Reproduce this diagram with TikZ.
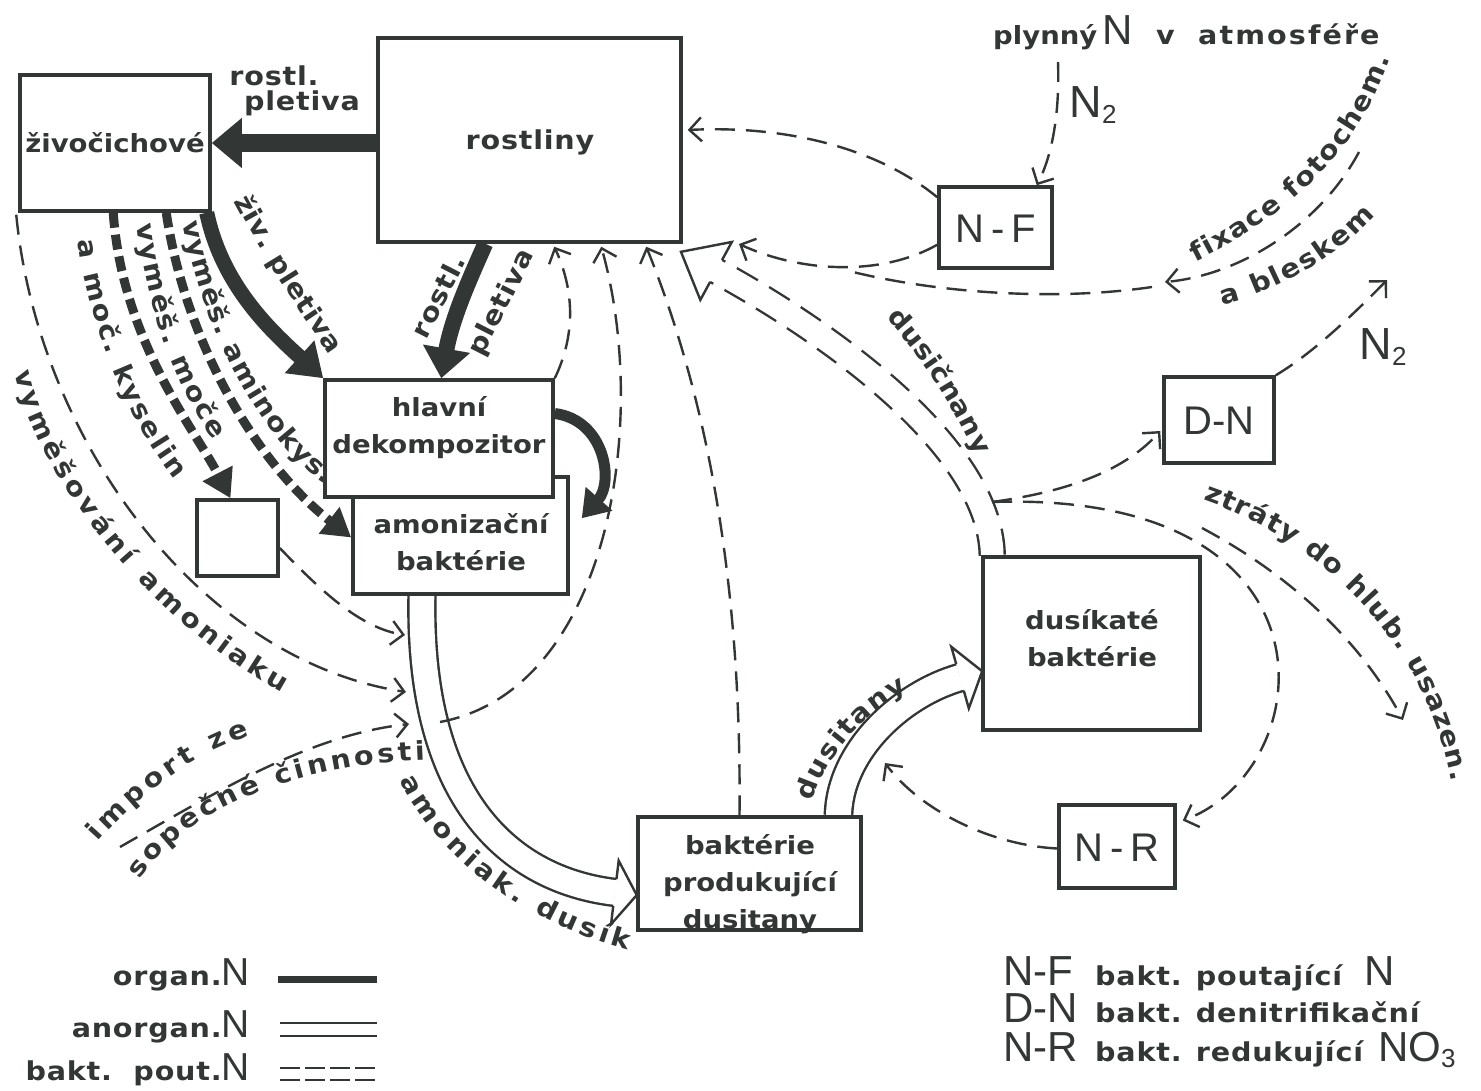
\documentclass[tikz,border=0pt]{standalone}
\usepackage{fontspec}
\usetikzlibrary{arrows.meta,decorations.text,decorations.markings,calc}
\newfontfamily\lblfam{DejaVu Sans}[FakeStretch=1.1]
\newfontfamily\lblwfam{DejaVu Sans}[FakeStretch=1.1, LetterSpace=3]
\newfontfamily\lblxfam{DejaVu Sans}[FakeStretch=1.1, LetterSpace=8]
\newfontfamily\thinfam{Liberation Sans}
\newcommand\lblf{\lblfam\bfseries\fontsize{25}{37}\selectfont}
\newcommand\lblw{\lblwfam\bfseries\fontsize{26}{37}\selectfont}
\newcommand\lblx{\lblxfam\bfseries\fontsize{26}{37}\selectfont}
\newcommand\thinf[1]{\thinfam\mdseries\fontsize{#1}{#1}\selectfont}
\definecolor{ink}{RGB}{50,54,52}
\pgfdeclarelayer{back}
\pgfsetlayers{back,main}
\tikzset{
  box/.style={draw=ink, line width=3.5pt, fill=white, inner sep=0pt},
  txt/.style={font=\lblf, text=ink, inner sep=0pt, align=center},
  wtxt/.style={font=\lblw, text=ink, inner sep=0pt, align=center},
  xtxt/.style={font=\lblx, text=ink, inner sep=0pt, align=center},
  thin/.style={font={\thinf{#1}}, text=ink, inner sep=0pt},
  dsh/.style={draw=ink, line width=2.4pt, dash pattern=on 20pt off 11pt, -{Straight Barb[length=12pt,width=24pt]}},
  dshl/.style={draw=ink, line width=2.4pt, dash pattern=on 20pt off 11pt},
  bakarr/.style={draw=ink, line width=9pt, dash pattern=on 15pt off 7pt, -{Triangle[length=28pt,width=32pt]}},
  hhead/.style n args={3}{postaction={decorate, decoration={markings, mark=at position 0.999 with {
      \fill[white] (0,#1) -- (0,#2) -- (#3,0) -- (0,-#2) -- (0,-#1) -- cycle;
      \draw[ink, line width=2.4pt, solid, line join=miter] (0,#1) -- (0,#2) -- (#3,0) -- (0,-#2) -- (0,-#1);}}}},
  hollow/.style 2 args={draw=white, line width=#1, preaction={draw=ink, line width=#2}},
  hollowd/.style 2 args={draw=white, line width=#1, preaction={draw=ink, line width=#2, dash pattern=on 24pt off 13pt}},
  ontext/.style={decorate, decoration={text along path, text={|\lblw\color{ink}|#1}, text align=fit to path}}
}
\begin{document}
\begin{tikzpicture}[x=1pt,y=-1pt]
\useasboundingbox (0,0) rectangle (1481,1091);
\begin{pgfonlayer}{back}
\fill[white] (0,0) rectangle (1481,1091);
\end{pgfonlayer}

% ---------- boxes ----------
\node[box, minimum width=190pt, minimum height=136pt] (ziv) at (115,143) {};
\node[box, minimum width=303pt, minimum height=204pt] (rost) at (529.5,140) {};
\node[box, minimum width=215pt, minimum height=117pt] (amon) at (460.5,535.5) {};
\node[box, minimum width=228pt, minimum height=117pt] (hlav) at (439,438.5) {};
\node[box, minimum width=81pt, minimum height=76pt] (small) at (237.5,538) {};
\node[box, minimum width=113pt, minimum height=81pt] (nf) at (995.5,227.5) {};
\node[box, minimum width=110pt, minimum height=86pt] (dn) at (1219,420) {};
\node[box, minimum width=217pt, minimum height=173pt] (dus) at (1091.5,643.5) {};
\node[box, minimum width=116pt, minimum height=83pt] (nr) at (1117,846.5) {};
\node[box, minimum width=223pt, minimum height=113pt] (bak) at (749.5,873.5) {};

\node[txt] (zivT) at (115,143) {živočichové};
\node[wtxt] (rostT) at (530,142) {rostliny};
\node[txt] (hlavT) at (439,428) {hlavní\\dekompozitor};
\node[txt] (amonT) at (461,542) {amonizační\\baktérie};
\node[txt] (dusT) at (1092,638) {dusíkaté\\baktérie};
\node[txt] (bakT) at (750,884) {baktérie\\produkující\\dusitany};
\node[thin=40] (nfT) at (995.5,229) {N\,-\,F};
\node[thin=40] (dnT) at (1219,421) {D-N};
\node[thin=40] (nrT) at (1117,848) {N\,-\,R};

% ---------- free coordinates ----------
\coordinate (amL1) at (405,635);
\coordinate (amL2) at (406,692);
\coordinate (amL3) at (409,724);
\coordinate (amR) at (440,722);
\coordinate (impS) at (120,847);
\coordinate (split) at (992,502);
\coordinate (ztr) at (1202,528);
\coordinate (ztrE) at (1403,720);
\coordinate (nfE) at (739,244);
\coordinate (fixS) at (1359,152);
\coordinate (fixE) at (1165,282);
\coordinate (fixC) at (1152,287);
\coordinate (fixM) at (845,270);
\coordinate (atmS) at (1058,62);
\coordinate (n2E) at (1387,280);
\coordinate (dsR) at (885,763);
\coordinate (curlE) at ($(amon.north east)+(12,43)$);

\begin{pgfonlayer}{back}
% organic N (thick)
\draw[ink, line width=18pt, -{Triangle[length=30pt,width=48pt]}] ($(rost.west)+(0,3)$) -- (ziv.east);
\draw[ink, line width=15pt, -{Triangle[length=32pt,width=42pt]}] ($(ziv.south east)+(-5,0)$) .. controls (222,285) and (270,330) .. (hlav.north west);
\draw[ink, line width=16pt, -{Triangle[length=30pt,width=46pt]}] ($(rost.south west)+(109,0)$) .. controls (470,278) and (452,318) .. ($(hlav.north west)+(118,0)$);
\draw[ink, line width=11pt, -{Triangle[length=26pt,width=34pt]}] ($(hlav.east)+(0,-25)$) .. controls (605,420) and (614,482) .. (curlE);
% excretion (thick dashed)
\draw[bakarr] ($(ziv.south west)+(148,0)$) .. controls (186,345) and (258,465) .. ($(amon.west)+(0,2)$);
\draw[bakarr] ($(ziv.south west)+(95,0)$) .. controls (122,340) and (195,430) .. ($(small.north)+(-7,0)$);
% hollow arrows
\draw[hollow={24.6pt}{29.4pt}, hhead={13.5}{32}{22}] ($(amon.south)+(-38.5,0)$) .. controls (418,800) and (510,880) .. ($(bak.west)+(-21,19)$);
\draw[hollow={25pt}{29.8pt}, hhead={13.7}{32}{23}] ($(bak.north)+(89,0)$) .. controls (840,750) and (902,694) .. ($(dus.west)+(-21,34)$);
\draw[hollowd={22.6pt}{27.4pt}, hhead={12.5}{33}{40}] ($(dus.north west)+(11,0)$) .. controls (990,440) and (810,322) .. ($(rost.south east)+(33,27)$);
% thin dashed
\draw[dsh] ($(ziv.south west)+(-2,2)$) .. controls (38,440) and (200,660) .. (amL2);
\draw[dsh] ($(small.east)+(0,10)$) .. controls (320,590) and (360,628) .. (amL1);
\draw[dsh] (impS) .. controls (220,790) and (310,735) .. (amL3);
\draw[dsh] (hlav.north east) .. controls (578,330) and (572,285) .. ($(rost.south west)+(178,3)$);
\draw[dsh] (amR) .. controls (610,690) and (650,420) .. ($(rost.south west)+(225,3)$);
\draw[dsh] ($(bak.north)+(-10,0)$) .. controls (742,560) and (700,380) .. ($(rost.south west)+(270,3)$);
\draw[dsh] ($(nf.north west)+(0,12)$) .. controls (880,150) and (790,125) .. ($(rost.east)+(5,-10)$);
\draw[dsh] ($(nf.south west)+(0,-25)$) .. controls (880,277) and (800,272) .. (nfE);
\draw[dsh] (atmS) .. controls (1060,120) and (1050,160) .. ($(nf.north east)+(-17,0)$);
\draw[dsh] (fixS) .. controls (1320,225) and (1240,275) .. (fixE);
\draw[dshl] (fixC) .. controls (1050,302) and (930,292) .. (fixM);
\draw[dsh] (split) .. controls (1080,490) and (1130,465) .. ($(dn.west)+(-2,11)$);
\draw[dsh] (split) .. controls (1350,490) and (1320,770) .. ($(nr.east)+(6,-26)$);
\draw[dsh] (ztr) .. controls (1290,575) and (1360,640) .. (ztrE);
\draw[dsh] (dn.north east) .. controls (1310,355) and (1350,318) .. (n2E);
\draw[dsh] ($(nr.west)+(0,2)$) .. controls (990,845) and (920,810) .. (dsR);
\end{pgfonlayer}

% ---------- labels ----------
\node[wtxt] (rp1) at (274,76) {rostl.};
\node[wtxt] (rp2) at (302,103) {pletiva};
\node[wtxt, rotate=63] (rl1) at (438,296) {rostl.};
\node[wtxt, rotate=63] (rl2) at (502,303) {pletiva};
\node[txt, anchor=base west] (atm1) at (993,45) {plynný};
\node[thin=42, anchor=base west] (atm2) at (1102,45) {N};
\node[wtxt, anchor=base west] (atm3) at (1156,45) {v};
\node[xtxt, anchor=base west] (atm4) at (1198,45) {atmosféře};
\node[thin=45] (n2a) at (1093,105) {N\raisebox{-6pt}{\thinf{26}2}};
\node[thin=45] (n2b) at (1383,347) {N\raisebox{-6pt}{\thinf{26}2}};

\path[ontext={živ. pletiva}] (234,201) .. controls (261,251) and (291,300) .. (330,355);
\path[ontext={vyměš. aminokys.}] (183,222) .. controls (203,338) and (272,452) .. (326,484);
\path[ontext={vyměš. moče}] (137,224) .. controls (147,310) and (177,390) .. (214,440);
\path[ontext={a moč. kyselin}] (78,240) .. controls (90,330) and (128,420) .. (175,480);
\path[ontext={vyměšování amoniaku}] (15,372) .. controls (38,480) and (150,620) .. (282,693);
\path[ontext={amoniak. dusík}] (400,780) .. controls (440,860) and (520,920) .. (628,950);
\path[ontext={import ze}] (98,842) .. controls (140,795) and (190,755) .. (250,736);
\path[ontext={sopečné činnosti}] (140,880) .. controls (190,805) and (300,765) .. (425,760);
\path[ontext={dusitany}] (812,802) .. controls (825,760) and (860,715) .. (908,690);
\path[ontext={dusičnany}] (886,318) .. controls (920,355) and (950,400) .. (976,456);
\path[ontext={fixace fotochem.}] (1195,262) .. controls (1290,215) and (1360,150) .. (1390,58);
\path[ontext={a bleskem}] (1222,305) .. controls (1280,290) and (1340,255) .. (1375,215);
\path[ontext={ztráty do hlub. usazen.}] (1203,500) .. controls (1320,540) and (1425,640) .. (1452,782);

% ---------- legend ----------
\node[wtxt, anchor=base east] (lgOrg) at (250,985) {organ.{\thinf{39}N}};
\node[wtxt, anchor=base east] (lgAno) at (250,1037) {anorgan.{\thinf{39}N}};
\node[wtxt, anchor=base east] (lgBak) at (250,1080) {bakt.\ \ pout.{\thinf{39}N}};
\draw[ink, line width=7pt] (278,979) -- (377,979);
\draw[ink, line width=2.4pt] (280,1023) -- (377,1023) (280,1036) -- (377,1036);
\draw[ink, line width=2.4pt, dash pattern=on 20pt off 5pt] (280,1068) -- (377,1068) (280,1080) -- (377,1080);

\node[thin=42, anchor=base west] (lgNF) at (1003,985) {N-F};
\node[wtxt, anchor=base west] (lgNFt) at (1095,985) {bakt. poutající};
\node[thin=42, anchor=base west] (lgNFn) at (1364,985) {N};
\node[thin=42, anchor=base west] (lgDN) at (1003,1022) {D-N};
\node[wtxt, anchor=base west] (lgDNt) at (1095,1022) {bakt. denitrifikační};
\node[thin=42, anchor=base west] (lgNR) at (1003,1061) {N-R};
\node[wtxt, anchor=base west] (lgNRt) at (1095,1061) {bakt. redukující};
\node[thin=42, anchor=base west] (lgNRn) at (1378,1061) {NO\raisebox{-6pt}{\thinf{26}3}};
\end{tikzpicture}
\end{document}
